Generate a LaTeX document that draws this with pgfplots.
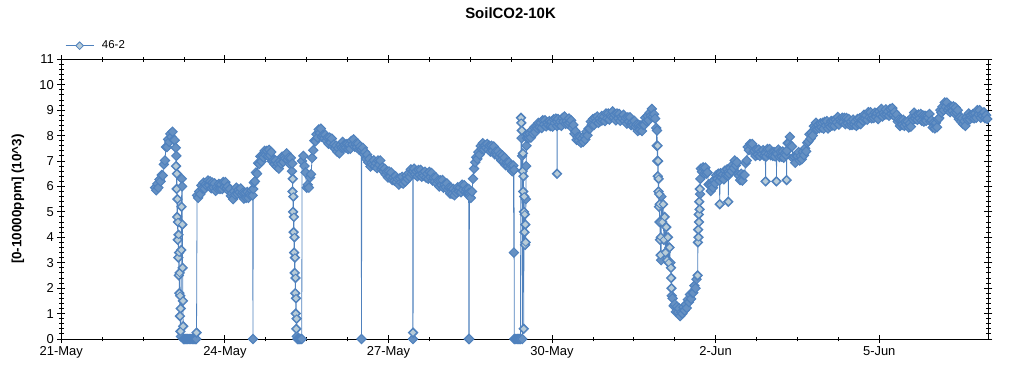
\documentclass[border=0pt]{standalone}
\usepackage{pgfplots}
\pgfplotsset{compat=1.18}
\usepackage{pgfplotstable}
\usepackage{fontspec}
\setmainfont{Liberation Sans}
\definecolor{serblue}{RGB}{79,129,189}
\definecolor{markfill}{RGB}{184,204,216}
\pgfplotstableread{
x y
1.72 5.95
1.74 5.85
1.76 6.10
1.78 5.95
1.80 6.27
1.82 6.20
1.84 6.45
1.86 6.43
1.88 6.87
1.90 7.02
1.92 7.55
1.94 7.55
1.96 7.85
1.98 7.75
2.00 8.07
2.02 7.95
2.04 8.15
2.06 7.83
2.08 7.82
2.10 7.52
2.105 6.80
2.11 7.20
2.115 5.90
2.12 6.50
2.125 4.80
2.13 5.50
2.135 3.90
2.14 4.60
2.145 3.20
2.15 4.10
2.155 2.50
2.16 3.40
2.165 1.80
2.17 2.60
2.175 0.90
2.18 1.70
2.185 0.30
2.19 1.20
2.195 0.10
2.20 3.50
2.205 5.20
2.21 6.30
2.215 6.00
2.22 4.50
2.225 2.80
2.23 1.50
2.235 0.50
2.24 0.00
2.26 0.00
2.28 0.00
2.30 0.00
2.32 0.00
2.34 0.00
2.36 0.00
2.38 0.00
2.40 0.00
2.42 0.00
2.44 0.00
2.46 0.00
2.475 0.00
2.48 0.25
2.49 5.65
2.51 5.55
2.53 5.80
2.55 5.70
2.57 6.04
2.59 5.92
2.61 6.15
2.63 5.91
2.65 6.09
2.67 6.02
2.69 6.23
2.71 6.05
2.73 6.20
2.75 5.93
2.77 6.15
2.79 5.95
2.81 6.12
2.83 5.83
2.85 5.97
2.87 5.90
2.89 6.10
2.91 5.90
2.93 6.08
2.95 5.90
2.97 6.17
2.99 5.97
3.01 6.17
3.03 5.93
3.05 6.00
3.07 5.82
3.09 5.90
3.11 5.63
3.13 5.73
3.15 5.50
3.17 5.80
3.19 5.68
3.21 5.95
3.23 5.71
3.25 5.87
3.27 5.77
3.29 5.92
3.31 5.67
3.33 5.75
3.35 5.52
3.37 5.75
3.39 5.55
3.41 5.78
3.43 5.55
3.45 5.72
3.47 5.65
3.49 5.85
3.51 5.65
3.515 0.00
3.52 5.90
3.53 6.15
3.55 6.20
3.57 6.55
3.59 6.50
3.61 6.92
3.63 6.88
3.65 7.18
3.67 6.98
3.69 7.19
3.71 7.15
3.73 7.40
3.75 7.23
3.77 7.40
3.79 7.20
3.81 7.44
3.83 7.22
3.85 7.35
3.87 6.98
3.89 7.02
3.91 6.87
3.93 7.02
3.95 6.78
3.97 6.90
3.99 6.70
4.01 7.00
4.03 6.90
4.05 7.17
4.07 6.96
4.09 7.17
4.11 7.10
4.13 7.30
4.15 7.05
4.17 7.13
4.19 6.88
4.21 7.12
4.23 6.60
4.235 6.90
4.24 5.80
4.245 6.30
4.25 5.00
4.255 5.60
4.26 4.20
4.265 4.80
4.27 3.40
4.275 4.00
4.28 2.60
4.285 3.20
4.29 1.80
4.295 2.40
4.30 1.00
4.305 1.60
4.31 0.40
4.315 0.80
4.32 0.10
4.33 0.00
4.35 0.00
4.37 0.00
4.39 0.00
4.41 0.00
4.415 7.00
4.44 7.20
4.46 6.80
4.48 6.55
4.50 5.95
4.52 6.07
4.54 5.95
4.56 6.35
4.58 6.48
4.60 7.12
4.62 7.42
4.64 7.80
4.66 7.77
4.68 8.05
4.70 7.92
4.72 8.24
4.74 8.10
4.76 8.27
4.78 7.95
4.80 8.02
4.82 7.89
4.84 8.03
4.86 7.80
4.88 7.92
4.90 7.68
4.92 7.92
4.94 7.72
4.96 7.88
4.98 7.58
5.00 7.65
5.02 7.49
5.04 7.60
5.06 7.37
5.08 7.50
5.10 7.30
5.12 7.64
5.14 7.52
5.16 7.75
5.18 7.51
5.20 7.65
5.22 7.52
5.24 7.67
5.26 7.47
5.28 7.65
5.30 7.48
5.32 7.79
5.34 7.65
5.36 7.85
5.38 7.56
5.40 7.67
5.42 7.54
5.44 7.68
5.46 7.45
5.48 7.57
5.50 7.45
5.505 0.00
5.51 7.45
5.53 7.52
5.55 7.27
5.57 7.35
5.59 7.08
5.61 7.25
5.63 6.95
5.65 7.08
5.67 6.78
5.69 6.92
5.71 6.85
5.73 7.03
5.75 6.80
5.77 6.92
5.79 6.72
5.81 7.02
5.83 6.85
5.85 7.02
5.87 6.68
5.89 6.75
5.91 6.59
5.93 6.70
5.95 6.47
5.97 6.58
5.99 6.35
6.01 6.59
6.03 6.38
6.05 6.55
6.07 6.25
6.09 6.35
6.11 6.22
6.13 6.40
6.15 6.18
6.17 6.30
6.19 6.07
6.21 6.32
6.23 6.15
6.25 6.38
6.27 6.11
6.29 6.22
6.31 6.19
6.33 6.43
6.35 6.30
6.37 6.52
6.39 6.37
6.41 6.67
6.43 6.50
6.445 6.60
6.448 0.00
6.451 0.25
6.455 6.60
6.47 6.70
6.49 6.47
6.51 6.60
6.53 6.40
6.55 6.65
6.57 6.45
6.59 6.65
6.61 6.38
6.63 6.52
6.65 6.42
6.67 6.58
6.69 6.35
6.71 6.50
6.73 6.30
6.75 6.57
6.77 6.37
6.79 6.53
6.81 6.23
6.83 6.34
6.85 6.20
6.87 6.35
6.89 6.12
6.91 6.23
6.93 6.00
6.95 6.24
6.97 6.05
6.99 6.25
7.01 5.95
7.03 6.07
7.05 5.97
7.07 6.12
7.09 5.87
7.11 5.95
7.13 5.72
7.15 5.94
7.17 5.70
7.19 5.90
7.21 5.65
7.23 5.82
7.25 5.75
7.27 5.97
7.29 5.80
7.31 5.95
7.33 5.77
7.35 6.07
7.37 5.87
7.39 6.05
7.41 5.78
7.43 5.89
7.45 5.75
7.47 5.90
7.472 0.00
7.476 5.75
7.48 0.00
7.484 5.70
7.49 5.60
7.51 5.55
7.53 5.80
7.55 6.30
7.57 6.70
7.59 6.95
7.61 7.15
7.63 7.08
7.65 7.35
7.67 7.25
7.69 7.59
7.71 7.47
7.73 7.70
7.75 7.46
7.77 7.62
7.79 7.52
7.81 7.67
7.83 7.45
7.85 7.60
7.87 7.37
7.89 7.60
7.91 7.40
7.93 7.57
7.95 7.26
7.97 7.37
7.99 7.24
8.01 7.38
8.03 7.15
8.05 7.27
8.07 7.02
8.09 7.22
8.11 6.98
8.13 7.13
8.15 6.83
8.17 6.94
8.19 6.80
8.21 6.95
8.23 6.72
8.25 6.83
8.27 6.60
8.29 6.82
8.300 3.40
8.303 6.65
8.306 0.00
8.32 0.00
8.34 0.00
8.36 0.00
8.38 0.00
8.40 0.00
8.42 0.00
8.43 8.70
8.435 8.50
8.44 7.90
8.445 8.20
8.45 7.20
8.455 0.00
8.46 6.60
8.465 7.30
8.47 5.80
8.475 6.40
8.48 0.40
8.485 5.00
8.49 5.60
8.495 4.20
8.50 4.90
8.505 3.70
8.51 4.50
8.515 3.80
8.52 5.50
8.525 6.80
8.53 7.60
8.54 7.90
8.55 8.05
8.57 7.90
8.59 8.08
8.61 7.92
8.63 8.22
8.65 8.08
8.67 8.32
8.69 8.13
8.71 8.34
8.73 8.29
8.75 8.50
8.77 8.33
8.79 8.50
8.81 8.30
8.83 8.60
8.85 8.43
8.87 8.60
8.89 8.36
8.91 8.52
8.93 8.42
8.95 8.57
8.97 8.37
8.99 8.55
9.01 8.35
9.03 8.64
9.05 8.50
9.07 8.67
9.09 8.38
9.092 6.50
9.095 8.55
9.11 8.65
9.13 8.43
9.15 8.55
9.17 8.38
9.19 8.69
9.21 8.55
9.23 8.75
9.25 8.46
9.27 8.57
9.29 8.47
9.31 8.67
9.33 8.50
9.35 8.60
9.37 8.30
9.39 8.42
9.41 8.07
9.43 8.17
9.45 7.83
9.47 7.94
9.49 7.80
9.51 7.95
9.53 7.72
9.55 7.88
9.57 7.75
9.59 7.99
9.61 7.85
9.63 8.15
9.65 8.01
9.67 8.27
9.69 8.27
9.71 8.55
9.73 8.43
9.75 8.65
9.77 8.42
9.79 8.69
9.81 8.55
9.83 8.75
9.85 8.50
9.87 8.67
9.89 8.57
9.91 8.77
9.93 8.60
9.95 8.75
9.97 8.57
9.99 8.87
10.01 8.67
10.03 8.87
10.05 8.63
10.07 8.80
10.09 8.74
10.11 8.95
10.13 8.72
10.15 8.83
10.17 8.60
10.19 8.87
10.21 8.68
10.23 8.85
10.25 8.58
10.27 8.74
10.29 8.67
10.31 8.82
10.33 8.58
10.35 8.70
10.37 8.47
10.39 8.72
10.41 8.55
10.43 8.72
10.45 8.41
10.47 8.52
10.49 8.42
10.51 8.58
10.53 8.35
10.55 8.43
10.57 8.18
10.59 8.42
10.61 8.22
10.63 8.40
10.65 8.18
10.67 8.42
10.69 8.42
10.71 8.70
10.73 8.57
10.75 8.77
10.77 8.60
10.79 8.90
10.81 8.78
10.83 9.05
10.85 8.75
10.87 8.84
10.89 8.67
10.91 8.30
10.92 7.60
10.925 8.20
10.93 7.00
10.935 7.60
10.94 6.40
10.945 7.00
10.95 5.80
10.955 6.30
10.96 5.20
10.965 5.70
10.97 4.60
10.975 5.30
10.98 3.90
10.985 4.60
10.99 3.30
10.995 4.00
11.00 3.10
11.005 5.60
11.02 4.60
11.035 5.30
11.05 3.90
11.065 4.80
11.08 3.40
11.095 4.40
11.11 3.10
11.125 4.00
11.14 3.00
11.155 3.60
11.17 3.00
11.18 2.80
11.185 2.40
11.19 2.00
11.195 1.70
11.21 1.60
11.23 1.30
11.25 1.37
11.27 1.07
11.29 1.27
11.31 1.05
11.33 1.20
11.35 0.90
11.37 1.05
11.39 1.00
11.41 1.25
11.43 1.12
11.45 1.35
11.47 1.22
11.49 1.55
11.51 1.45
11.53 1.75
11.55 1.58
11.57 1.82
11.59 1.82
11.61 2.10
11.63 2.00
11.65 2.35
11.67 2.50
11.675 3.80
11.68 4.30
11.685 4.00
11.69 4.90
11.695 4.60
11.70 5.40
11.705 5.10
11.71 5.90
11.715 5.70
11.72 6.30
11.73 6.70
11.75 6.58
11.77 6.75
11.79 6.50
11.81 6.74
11.83 6.50
11.85 6.55
11.87 6.08
11.89 6.05
11.91 5.82
11.93 6.05
11.95 5.95
11.97 6.25
11.99 6.12
12.01 6.44
12.03 6.30
12.05 6.50
12.07 6.23
12.075 5.30
12.08 6.40
12.09 6.52
12.11 6.35
12.13 6.47
12.15 6.28
12.17 6.62
12.19 6.45
12.21 6.67
12.23 6.43
12.232 5.40
12.235 6.57
12.25 6.50
12.27 6.73
12.29 6.60
12.31 6.85
12.33 6.72
12.35 7.02
12.37 6.83
12.39 6.95
12.41 6.48
12.43 6.42
12.45 6.25
12.47 6.50
12.49 6.23
12.51 6.45
12.53 6.45
12.55 6.92
12.57 7.02
12.59 7.55
12.61 7.43
12.63 7.67
12.65 7.62
12.67 7.67
12.69 7.35
12.71 7.40
12.73 7.20
12.75 7.45
12.77 7.25
12.79 7.45
12.81 7.20
12.83 7.37
12.85 7.27
12.87 7.43
12.89 7.20
12.91 7.35
12.915 6.20
12.92 7.30
12.93 7.18
12.95 7.47
12.97 7.27
12.99 7.47
13.01 7.23
13.03 7.34
13.05 7.20
13.07 7.35
13.09 7.18
13.11 7.33
13.113 7.30
13.115 6.20
13.12 7.35
13.13 7.28
13.15 7.45
13.17 7.16
13.19 7.37
13.21 7.17
13.23 7.37
13.25 7.13
13.27 7.30
13.29 7.24
13.30 7.40
13.302 6.25
13.305 7.40
13.32 7.70
13.34 7.70
13.36 7.95
13.38 7.60
13.40 7.57
13.42 7.10
13.44 7.17
13.46 6.93
13.48 7.20
13.50 7.19
13.52 7.35
13.54 7.02
13.56 7.20
13.58 7.07
13.60 7.37
13.62 7.23
13.64 7.50
13.66 7.38
13.68 7.72
13.70 7.77
13.72 8.05
13.74 7.88
13.76 8.10
13.78 8.00
13.80 8.37
13.82 8.27
13.84 8.50
13.86 8.26
13.88 8.42
13.90 8.29
13.92 8.48
13.94 8.32
13.96 8.50
13.98 8.27
14.00 8.54
14.02 8.40
14.04 8.57
14.06 8.28
14.08 8.42
14.10 8.35
14.12 8.57
14.14 8.40
14.16 8.58
14.18 8.38
14.20 8.62
14.22 8.52
14.24 8.73
14.26 8.43
14.28 8.64
14.30 8.55
14.32 8.70
14.34 8.53
14.36 8.70
14.38 8.45
14.40 8.69
14.42 8.48
14.44 8.65
14.46 8.41
14.48 8.55
14.50 8.42
14.52 8.63
14.54 8.43
14.56 8.55
14.58 8.38
14.60 8.65
14.62 8.45
14.64 8.68
14.66 8.45
14.68 8.62
14.70 8.59
14.72 8.82
14.74 8.65
14.76 8.80
14.78 8.62
14.80 8.92
14.82 8.72
14.84 8.92
14.86 8.68
14.88 8.79
14.90 8.69
14.92 8.90
14.94 8.73
14.96 8.88
14.98 8.65
15.00 8.95
15.02 8.82
15.04 9.05
15.06 8.75
15.08 8.89
15.10 8.82
15.12 9.03
15.14 8.83
15.16 8.95
15.18 8.78
15.20 9.05
15.22 8.85
15.24 9.08
15.26 8.81
15.28 8.92
15.30 8.72
15.32 8.82
15.34 8.55
15.36 8.63
15.38 8.38
15.40 8.62
15.42 8.42
15.44 8.62
15.46 8.38
15.48 8.55
15.50 8.44
15.52 8.55
15.54 8.32
15.56 8.48
15.58 8.35
15.60 8.72
15.62 8.63
15.64 8.90
15.66 8.66
15.68 8.79
15.70 8.62
15.72 8.83
15.74 8.67
15.76 8.85
15.78 8.58
15.80 8.79
15.82 8.55
15.84 8.78
15.86 8.58
15.88 8.77
15.90 8.70
15.92 8.85
15.94 8.55
15.96 8.60
15.98 8.32
16.00 8.52
16.02 8.28
16.04 8.50
16.06 8.33
16.08 8.64
16.10 8.69
16.12 9.00
16.14 8.90
16.16 9.13
16.18 9.00
16.20 9.30
16.22 9.13
16.24 9.30
16.26 9.00
16.28 9.09
16.30 8.92
16.32 9.13
16.34 8.97
16.36 9.15
16.38 8.88
16.40 9.10
16.42 8.90
16.44 9.00
16.46 8.65
16.48 8.72
16.50 8.55
16.52 8.68
16.54 8.45
16.56 8.57
16.58 8.38
16.60 8.72
16.62 8.62
16.64 8.87
16.66 8.63
16.68 8.80
16.70 8.70
16.72 8.85
16.74 8.68
16.76 8.87
16.78 8.70
16.80 9.00
16.82 8.83
16.84 9.00
16.86 8.70
16.88 8.84
16.90 8.77
16.92 8.92
16.94 8.68
16.96 8.80
16.98 8.65
}\datatable
\pgfplotstableread{
x y
2.105 6.80
2.115 5.90
2.12 6.50
2.125 4.80
2.13 5.50
2.135 3.90
2.14 4.60
2.145 3.20
2.15 4.10
2.155 2.50
2.16 3.40
2.165 1.80
2.17 2.60
2.175 0.90
2.18 1.70
2.185 0.30
2.19 1.20
2.20 3.50
2.205 5.20
2.22 4.50
2.225 2.80
2.23 1.50
2.235 0.50
2.48 0.25
4.24 5.80
4.245 6.30
4.25 5.00
4.255 5.60
4.26 4.20
4.265 4.80
4.27 3.40
4.275 4.00
4.28 2.60
4.285 3.20
4.29 1.80
4.295 2.40
4.30 1.00
4.305 1.60
4.31 0.40
4.315 0.80
6.451 0.25
8.43 8.70
8.435 8.50
8.445 8.20
8.46 6.60
8.465 7.30
8.47 5.80
8.475 6.40
8.48 0.40
8.485 5.00
8.49 5.60
8.495 4.20
8.50 4.90
8.505 3.70
8.51 4.50
8.515 3.80
9.092 6.50
10.92 7.60
10.93 7.00
10.935 7.60
10.94 6.40
10.945 7.00
10.95 5.80
10.955 6.30
10.96 5.20
10.965 5.70
10.97 4.60
10.975 5.30
10.98 3.90
10.985 4.60
10.99 3.30
10.995 4.00
11.02 4.60
11.035 5.30
11.05 3.90
11.065 4.80
11.08 3.40
11.095 4.40
11.11 3.10
11.125 4.00
11.14 3.00
11.155 3.60
11.18 2.80
11.185 2.40
11.19 2.00
11.67 2.50
11.675 3.80
11.68 4.30
11.685 4.00
11.69 4.90
11.695 4.60
11.70 5.40
11.705 5.10
11.71 5.90
12.075 5.30
12.232 5.40
12.915 6.20
13.115 6.20
13.302 6.25
}\isolated
\begin{document}
\begin{tikzpicture}
\path[use as bounding box] (0,0) rectangle (1024bp,375bp);
\begin{axis}[
  at={(61.3bp,36bp)}, anchor=south west,
  scale only axis, width=927bp, height=279.7bp,
  xmin=0, xmax=17, ymin=0, ymax=11,
  xtick={0,3,6,9,12,15},
  xticklabels={21-May,24-May,27-May,30-May,2-Jun,5-Jun},
  minor x tick num=3,
  ytick={0,1,2,3,4,5,6,7,8,9,10,11},
  minor y tick num=4,
  tick align=center,
  major tick length=8bp, minor tick length=4.5bp,
  every tick/.style={black, line width=0.9bp},
  axis line style={line width=0.9bp},
  tick label style={font=\fontsize{13}{15}\selectfont},
  /pgf/number format/assume math mode=true,
  title={SoilCO2-10K},
  title style={font=\bfseries\fontsize{15}{18}\selectfont, at={(axis description cs:0.4846,1.144)}, anchor=center},
  ylabel={[0-10000ppm] (10\textasciicircum 3)},
  ylabel style={font=\bfseries\fontsize{13.5}{16}\selectfont, at={(axis description cs:-0.0467,0.5)}, anchor=center},
  legend style={draw=none, fill=none, at={(axis description cs:0.004,1.0486)}, anchor=west, font=\fontsize{11.5}{13}\selectfont, inner sep=0pt},
  legend image code/.code={\draw[#1, mark options={rotate=45, fill=markfill, draw=serblue, line width=0.8bp}, mark size=2.7bp, mark repeat=2, mark phase=2] plot coordinates {(0bp,0bp) (14bp,0bp) (28bp,0bp)}; \path (34bp,0bp);},
]
\addplot[color=serblue, line width=0.8bp, mark=square*, mark size=3.3bp,
  mark options={rotate=45, fill=serblue!78!markfill, draw=serblue, line width=1bp}]
  table[x=x,y=y] {\datatable};
\addlegendentry{46-2}
\addplot[only marks, forget plot, mark=square*, mark size=2.7bp,
  mark options={rotate=45, fill=markfill, draw=serblue, line width=0.8bp}]
  table[x=x,y=y] {\isolated};
\end{axis}
\end{tikzpicture}
\end{document}
